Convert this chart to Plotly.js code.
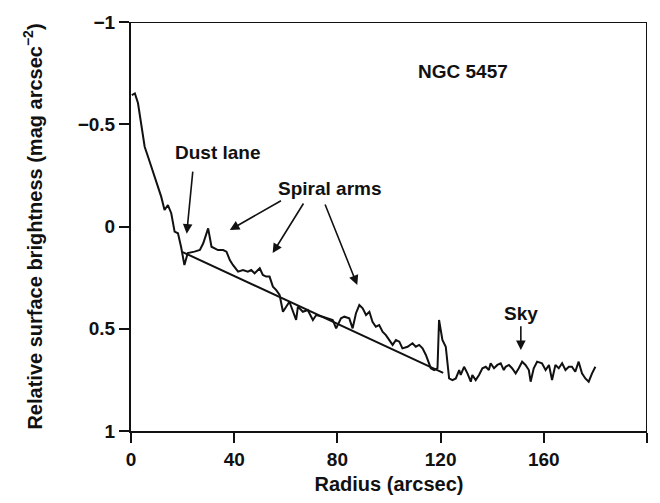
<!DOCTYPE html>
<html>
<head>
<meta charset="utf-8">
<script src="https://cdn.plot.ly/plotly-3.0.1.min.js"></script>
<style>
  html, body { margin: 0; padding: 0; background: #fff; }
  #chart { width: 660px; height: 503px; }
  #err { position: absolute; left: 140px; top: 440px; font: 10px monospace; color: #c00; }
</style>
</head>
<body>
<div id="chart"></div>
<div id="err"></div>
<script>
// Azimuthally averaged surface-brightness profile of NGC 5457 (M101)
const radius = [0.3, 1.5, 2.7, 5.3, 6.6, 9.2, 11.7, 13, 14.3, 15.6,
  16.9, 18.2, 19.4, 20.7, 22, 24.6, 26.7, 28, 29.9, 31.2,
  32.5, 33.7, 35.7, 37, 38.3, 39.5, 41.5, 43.4, 45.3, 46.6,
  47.9, 49.9, 51.1, 52.4, 53.7, 55, 56.3, 57.6, 58.9, 61.4,
  64, 64.7, 66.6, 68.5, 70.5, 71.8, 74.3, 76.3, 78.2, 79.5,
  81.4, 82.7, 84.6, 85.9, 87.2, 88.5, 89.8, 91.1, 92.4, 93.6,
  94.9, 96.2, 97.5, 98.8, 100.1, 101.4, 102.7, 104, 105.2, 107.2,
  109.1, 110.4, 111.7, 113, 114.3, 116.2, 117.5, 118.8, 119.4, 120.7,
  122, 123.3, 124.6, 125.9, 127.2, 127.8, 129.1, 130.4, 131.7, 132.3,
  133.6, 134.9, 136.2, 137.5, 138.7, 139.4, 140.7, 142, 143.3, 144.5,
  145.2, 146.5, 147.7, 149.1, 150.3, 151.6, 152.9, 154.2, 154.9, 156.1,
  157.4, 159.3, 160.7, 162, 163.2, 164.5, 165.8, 167.1, 168.4, 169.7,
  170.9, 172.2, 173.5, 174.8, 176.1, 177.4, 178.7, 180];

const brightness = [-0.643, -0.651, -0.604, -0.39, -0.341, -0.244, -0.146, -0.081, -0.105, -0.065,
  0.025, 0.033, 0.099, 0.188, 0.13, 0.123, 0.115, 0.082, 0.009, 0.099,
  0.107, 0.115, 0.115, 0.123, 0.164, 0.188, 0.221, 0.213, 0.221, 0.213,
  0.229, 0.204, 0.237, 0.245, 0.245, 0.294, 0.311, 0.335, 0.417, 0.368,
  0.457, 0.392, 0.417, 0.408, 0.457, 0.433, 0.441, 0.449, 0.457, 0.498,
  0.449, 0.441, 0.449, 0.498, 0.424, 0.384, 0.4, 0.433, 0.417, 0.466,
  0.49, 0.482, 0.514, 0.531, 0.555, 0.579, 0.555, 0.563, 0.596, 0.588,
  0.571, 0.588, 0.579, 0.596, 0.628, 0.693, 0.702, 0.693, 0.457, 0.555,
  0.588, 0.743, 0.751, 0.743, 0.702, 0.726, 0.686, 0.718, 0.759, 0.726,
  0.751, 0.726, 0.693, 0.686, 0.702, 0.669, 0.693, 0.677, 0.669, 0.702,
  0.686, 0.677, 0.693, 0.718, 0.693, 0.661, 0.677, 0.702, 0.759, 0.693,
  0.661, 0.669, 0.702, 0.677, 0.751, 0.677, 0.693, 0.669, 0.702, 0.686,
  0.686, 0.71, 0.661, 0.718, 0.743, 0.759, 0.718, 0.686];

// Exponential-disk fit (a straight line in magnitudes)
const diskFitRadius = [20, 121];
const diskFitBrightness = [0.125, 0.716];

// Axis tick labels
const radiusTicks = [0, 40, 80, 120, 160, 200];
const radiusTickText = ['0', '40', '80', '120', '160', '200'];
const brightnessTicks = [-1, -0.5, 0, 0.5, 1];
const brightnessTickText = ['\u22121', '\u22120.5', '0', '0.5', '1'];

// Labels and the features they point at
const labels = [
  {text: 'NGC 5457', x: 128.7, y: -0.756},
  {text: 'Dust lane', x: 33.6, y: -0.36},
  {text: 'Spiral arms', x: 77.3, y: -0.188},
  {text: 'Sky', x: 151.1, y: 0.423}
];
const pointers = [
  // [tail x, tail y, head x, head y]
  [24.0, -0.276, 21.6, 0.035],
  [58.7, -0.13, 38.3, 0.017],
  [67.2, -0.12, 54.9, 0.13],
  [75.0, -0.115, 87.7, 0.286],
  [151.1, 0.481, 151.1, 0.604]
];

const FONT = 'Liberation Sans, Arial, Helvetica, sans-serif';
const INK = '#111';
const W = 660, H = 503;
const M = {l: 131, r: 13, t: 22, b: 72};
const X_RANGE = [0, 200], Y_RANGE = [1, -1];
const TICK_W = 1.6, MAJOR_LEN = 10, MINOR_LEN = 6;

// Pixel-to-data conversion for the tick lengths
const pxX = (X_RANGE[1] - X_RANGE[0]) / (W - M.l - M.r);
const pxY = Math.abs(Y_RANGE[0] - Y_RANGE[1]) / (H - M.t - M.b);
const yTop = Math.min(...Y_RANGE), yBottom = Math.max(...Y_RANGE);

// Frame edges and finer tick marks, collected as line segments
const tickX = [], tickY = [];
function seg(x0, y0, x1, y1) { tickX.push(x0, x1, null); tickY.push(y0, y1, null); }

for (let r = 10; r < 200; r += 10) {
  const major = r % 40 === 0;
  if (!major) seg(r, yBottom, r, yBottom + MINOR_LEN * pxY);          // below
  seg(r, yTop, r, yTop - (major ? MAJOR_LEN : MINOR_LEN) * pxY);       // along the top
}
for (let k = -9; k <= 9; k++) {
  if (k % 5 === 0) continue;
  seg(X_RANGE[0], k / 10, X_RANGE[0] - MINOR_LEN * pxX, k / 10);       // left, every 0.1 mag
}
// Secondary scale on the right edge: 28 divisions over the frame height,
// a long tick every fourth division
const RIGHT_DIVS = 28, RIGHT_FIRST = 0.76, RIGHT_LONG_FIRST = 3.76;
for (let u = RIGHT_FIRST; u < RIGHT_DIVS - 1; u += 1) {
  const long = Math.abs(((u - RIGHT_LONG_FIRST) % 4 + 4) % 4) < 1e-6;
  const yv = yTop + u * (yBottom - yTop) / RIGHT_DIVS;
  seg(X_RANGE[1], yv, X_RANGE[1] + (long ? MAJOR_LEN : MINOR_LEN) * pxX, yv);
}

const traces = [
  {
    x: radius, y: brightness, type: 'scatter', mode: 'lines',
    line: {color: INK, width: 2}, hoverinfo: 'skip'
  },
  {
    x: diskFitRadius, y: diskFitBrightness, type: 'scatter', mode: 'lines',
    line: {color: INK, width: 2}, hoverinfo: 'skip'
  },
  {
    // top and right edges of the frame
    x: [X_RANGE[0], X_RANGE[1], X_RANGE[1]], y: [yTop, yTop, yBottom],
    type: 'scatter', mode: 'lines', line: {color: INK, width: 2},
    cliponaxis: false, hoverinfo: 'skip'
  },
  {
    x: tickX, y: tickY, type: 'scatter', mode: 'lines',
    line: {color: INK, width: TICK_W}, connectgaps: false,
    cliponaxis: false, hoverinfo: 'skip'
  }
];

const annotations = labels.map(l => ({
  text: '<b>' + l.text + '</b>', x: l.x, y: l.y, xref: 'x', yref: 'y',
  showarrow: false, font: {family: FONT, size: 19, color: INK}
})).concat(pointers.map(p => ({
  text: '', x: p[2], y: p[3], ax: p[0], ay: p[1],
  xref: 'x', yref: 'y', axref: 'x', ayref: 'y',
  showarrow: true, arrowhead: 2, arrowsize: 1.2, arrowwidth: 1.6,
  arrowcolor: INK, standoff: 0, startstandoff: 0
})));

const layout = {
  width: W, height: H,
  margin: M,
  paper_bgcolor: '#fff', plot_bgcolor: '#fff',
  showlegend: false,
  font: {family: FONT, color: INK},
  xaxis: {
    range: X_RANGE, tickmode: 'array', tickvals: radiusTicks,
    ticktext: radiusTickText.map(t => '<b>' + t + '</b>'),
    ticks: 'outside', ticklen: MAJOR_LEN, tickwidth: TICK_W, tickcolor: INK,
    showline: true, linewidth: 2, linecolor: INK,
    showgrid: false, zeroline: false,
    tickfont: {family: FONT, size: 19, color: INK},
    title: {text: '<b>Radius (arcsec)</b>', font: {family: FONT, size: 20, color: INK}, standoff: 8}
  },
  yaxis: {
    range: Y_RANGE, tickmode: 'array', tickvals: brightnessTicks,
    ticktext: brightnessTickText.map(t => '<b>' + t + '</b>'),
    ticks: 'outside', ticklen: MAJOR_LEN, tickwidth: TICK_W, tickcolor: INK,
    showline: true, linewidth: 2, linecolor: INK,
    showgrid: false, zeroline: false,
    tickfont: {family: FONT, size: 19, color: INK},
    title: {text: '<b>Relative surface brightness (mag arcsec<sup>\u22122</sup>)</b>',
            font: {family: FONT, size: 20, color: INK}, standoff: 30}
  },
  annotations: annotations
};

try {
  Plotly.newPlot('chart', traces, layout, {displayModeBar: false})
    .catch(e => { document.getElementById('err').textContent = String(e); });
} catch (e) {
  document.getElementById('err').textContent = String(e);
}
</script>
</body>
</html>
